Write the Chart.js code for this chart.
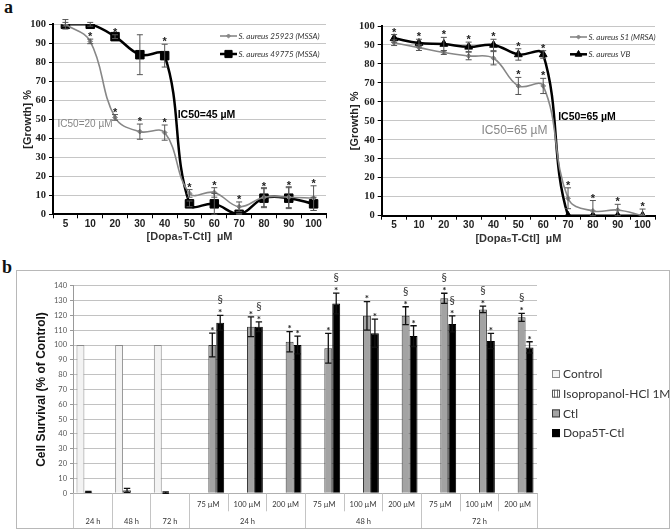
<!DOCTYPE html>
<html>
<head>
<meta charset="utf-8">
<script src="https://cdn.jsdelivr.net/npm/chart.js@4.4.1/dist/chart.umd.min.js"></script>
<style>
  html, body { margin: 0; padding: 0; background: #fff; }
  body { position: relative; width: 671px; height: 531px; overflow: hidden; }
  canvas { position: absolute; }
  .tag { position: absolute; font: bold 18px "Liberation Serif", serif; color: #111; }
  #frameB { position: absolute; left: 16px; top: 270px; width: 654px; height: 259px; border: 1px solid #b8b8b8; box-sizing: border-box; }
</style>
</head>
<body>
<div class="tag" style="left:4px;top:-3px">a</div>
<canvas id="growthMSSA" width="335" height="250" style="left:0;top:0"></canvas>
<canvas id="growthMRSA" width="335" height="250" style="left:330px;top:0"></canvas>
<div id="frameB"></div>
<canvas id="survival" width="653" height="258" style="left:16px;top:270px"></canvas>
<div class="tag" style="left:2px;top:257px">b</div>

<script>
// ===== panel a : growth (%) vs concentration =====
const concLabels = ['5', '10', '20', '30', '40', '50', '60', '70', '80', '90', '100'];

const aureus25923 = [100, 91, 51, 43.5, 43, 11, 11.5, 4, 9, 9, 8.5];
const aureus25923Err = [1, 1.2, 1.5, 4, 4, 2, 2.5, 2.5, 5, 5.5, 6.5];
const aureus49775 = [100, 100, 93.5, 84, 83.5, 5.5, 5.5, 0, 8.5, 8.5, 5.5];
const aureus49775Err = [2.5, 1, 1, 10.5, 6, 1.5, 5.5, 0.5, 5, 5.5, 3.5];
// [category index, series index] -> asterisk above that point
const starsMSSA = [[1, 0], [2, 1], [2, 0], [3, 0], [4, 1], [4, 0], [5, 0], [6, 0], [7, 0], [8, 1], [9, 1], [10, 0]];

const aureusS1 = [91.2, 88.6, 86, 84.2, 83, 68.4, 68.4, 9.2, 2.5, 3, 0];
const aureusS1Err = [1.5, 1.5, 1, 2, 3.5, 4.5, 4, 5.5, 5.5, 3, 3.5];
const aureusVB = [93.5, 91, 90.5, 89, 90, 85, 85, 0, 0, 0, 0];
const aureusVBErr = [2, 2, 3.5, 2.5, 3, 3, 2, 0, 0, 0, 0];
const starsMRSA = [[0, 1], [1, 1], [2, 1], [3, 1], [4, 1], [5, 1], [5, 0], [6, 1], [6, 0], [7, 0], [8, 0], [9, 0], [10, 0]];

// ===== panel b : cell survival =====
const doseRow = ['', '', '', '75 µM', '100 µM', '200 µM', '75 µM', '100 µM', '200 µM', '75 µM', '100 µM', '200 µM'];
const timeGroups = [['24 h', 1], ['48 h', 1], ['72 h', 1], ['24 h', 3], ['48 h', 3], ['72 h', 3]];
const controlPct = [100, 100, 100, null, null, null, null, null, null, null, null, null];
const isopropanolPct = [1, 2, 0.5, null, null, null, null, null, null, null, null, null];
const isopropanolErr = [0.3, 1.3, 0.5, 0, 0, 0, 0, 0, 0, 0, 0, 0];
const ctlPct = [null, null, null, 100, 112.3, 102.2, 97.8, 119.7, 119.8, 131.5, 124, 118.7];
const ctlErr = [0, 0, 0, 8, 6.7, 6.8, 10, 9.6, 6, 3.4, 2.2, 2.7];
const dopaPct = [null, null, null, 115, 112.3, 100, 128, 108, 106, 114.2, 102.7, 98.4];
const dopaErr = [0, 0, 0, 5, 3.3, 6, 7, 9.5, 7, 5.4, 5.2, 3.8];
const ctlMarks = ['', '', '', '*', '*', '*', '*', '*', '*§', '*§', '*§', '*§'];
const dopaMarks = ['', '', '', '*§', '*§', '*', '*§', '*', '*', '*§', '*', '*'];

const GRAY = '#878787';

function drawErrorBars(chart, errLists, color, cap, width) {
  const ctx = chart.ctx, ys = chart.scales.y;
  ctx.save();
  ctx.strokeStyle = color;
  ctx.lineWidth = width;
  errLists.forEach((errs, di) => {
    const vals = chart.data.datasets[di].data;
    chart.getDatasetMeta(di).data.forEach((el, i) => {
      const v = vals[i], e = errs[i];
      if (v == null || !e) return;
      const yt = ys.getPixelForValue(v + e);
      const yb = ys.getPixelForValue(Math.max(0, v - e));
      ctx.beginPath();
      ctx.moveTo(el.x, yt); ctx.lineTo(el.x, yb);
      ctx.moveTo(el.x - cap, yt); ctx.lineTo(el.x + cap, yt);
      ctx.moveTo(el.x - cap, yb); ctx.lineTo(el.x + cap, yb);
      ctx.stroke();
    });
  });
  ctx.restore();
}

function growthExtras(cfg) {
  return {
    id: 'growthExtras',
    afterDatasetsDraw(chart) {
      const errs = [cfg.grayErr, cfg.blackErr];
      drawErrorBars(chart, errs, '#555', 3, 1);
      const ctx = chart.ctx, ys = chart.scales.y;
      ctx.save();
      ctx.fillStyle = '#222';
      ctx.font = 'bold 11px "Liberation Sans"';
      ctx.textAlign = 'center';
      ctx.textBaseline = 'alphabetic';
      cfg.stars.forEach(([i, di]) => {
        const el = chart.getDatasetMeta(di).data[i];
        const v = chart.data.datasets[di].data[i];
        ctx.fillText('*', el.x, ys.getPixelForValue(v + errs[di][i]) + 1);
      });
      ctx.restore();
    },
    afterDraw(chart) {
      const ctx = chart.ctx, area = chart.chartArea;
      ctx.save();
      // legend
      cfg.legend.forEach((it, di) => {
        const ds = chart.data.datasets[di];
        ctx.strokeStyle = ds.borderColor;
        ctx.lineWidth = ds.borderWidth;
        ctx.beginPath();
        ctx.moveTo(it.x0, it.y); ctx.lineTo(it.x1, it.y);
        ctx.stroke();
        ctx.fillStyle = ds.backgroundColor;
        ctx.lineWidth = 1;
        Chart.helpers.drawPoint(ctx, { pointStyle: ds.pointStyle, radius: ds.pointRadius * 0.85, rotation: 0, borderWidth: 1 }, (it.x0 + it.x1) / 2, it.y);
        ctx.fillStyle = '#333';
        ctx.font = 'italic 8px Lato';
        ctx.textAlign = 'left';
        ctx.textBaseline = 'middle';
        ctx.fillText(ds.label, it.x1 + 1.5, it.y);
      });
      // IC50 notes
      ctx.textAlign = 'center';
      ctx.textBaseline = 'middle';
      cfg.notes.forEach(n => {
        ctx.fillStyle = n.color;
        ctx.font = n.font;
        ctx.fillText(n.text, n.x, n.y);
      });
      // x axis title
      ctx.fillStyle = '#333';
      ctx.font = 'bold 11px "Liberation Sans"';
      ctx.fillText('[Dopa₅T-Ctl]  µM', (area.left + area.right) / 2, area.bottom + 23);
      ctx.restore();
    }
  };
}

function growthChart(id, cfg) {
  return new Chart(document.getElementById(id), {
    type: 'line',
    data: {
      labels: concLabels,
      datasets: [
        { label: cfg.grayLabel, data: cfg.grayData, borderColor: GRAY, backgroundColor: GRAY, borderWidth: 1.6,
          pointStyle: 'rectRot', pointRadius: 2.4, pointBorderWidth: 1, tension: 0.4 },
        { label: cfg.blackLabel, data: cfg.blackData, borderColor: '#000', backgroundColor: '#000', borderWidth: 2.5,
          pointStyle: cfg.blackPoint, pointRadius: cfg.blackRadius, pointBorderWidth: 1, tension: 0.4 }
      ]
    },
    options: {
      responsive: false,
      animation: false,
      layout: { padding: { left: 0, right: cfg.padRight, top: cfg.top, bottom: 0 } },
      plugins: { legend: { display: false }, tooltip: { enabled: false } },
      scales: {
        x: {
          offset: true,
          grid: { drawOnChartArea: false, drawTicks: true, tickLength: 4, offset: true, color: '#000', tickColor: '#000' },
          border: { color: '#000', width: 2 },
          ticks: { color: '#222', font: { family: 'Liberation Sans', weight: 'bold', size: 10 }, padding: 0, maxRotation: 0 },
          afterFit(s) { s.height = cfg.xHeight; s.paddingLeft = 0; s.paddingRight = 0; }
        },
        y: {
          min: 0, max: 100,
          ticks: { stepSize: 10, color: '#222', font: { family: 'Liberation Serif', weight: 'bold', size: 10.5 }, padding: 3 },
          grid: { color: c => c.tick && c.tick.value === 0 ? 'rgba(0,0,0,0)' : '#c6c6c6', tickColor: '#000', tickLength: 4 },
          border: { color: '#000', width: 2 },
          title: { display: true, text: '[Growth] %', color: '#222',
                   font: { family: 'Liberation Sans', weight: 'bold', size: 11 }, padding: { top: cfg.yTitlePad, bottom: 0 } },
          afterFit(s) { s.width = cfg.yWidth; s.paddingTop = 0; s.paddingBottom = 0; }
        }
      }
    },
    plugins: [growthExtras(cfg)]
  });
}

growthChart('growthMSSA', {
  grayLabel: 'S. aureus 25923 (MSSA)', grayData: aureus25923, grayErr: aureus25923Err,
  blackLabel: 'S. aureus 49775 (MSSA)', blackData: aureus49775, blackErr: aureus49775Err,
  blackPoint: 'rect', blackRadius: 6, stars: starsMSSA,
  padRight: 9, top: 24.3, xHeight: 35.7, yWidth: 53, yTitlePad: 21.4,
  legend: [{ x0: 220, x1: 237, y: 36 }, { x0: 220, x1: 237, y: 54 }],
  notes: [
    { text: 'IC50=20 µM', x: 85, y: 124, color: GRAY, font: '10px "Liberation Sans"' },
    { text: 'IC50=45 µM', x: 206.5, y: 115, color: '#000', font: 'bold 10.5px "Liberation Sans"' }
  ]
});

growthChart('growthMRSA', {
  grayLabel: 'S. aureus S1 (MRSA)', grayData: aureusS1, grayErr: aureusS1Err,
  blackLabel: 'S. aureus VB', blackData: aureusVB, blackErr: aureusVBErr,
  blackPoint: 'triangle', blackRadius: 4.5, stars: starsMRSA,
  padRight: 10, top: 26, xHeight: 34.3, yWidth: 51.7, yTitlePad: 18.7,
  legend: [{ x0: 240, x1: 257, y: 37 }, { x0: 240, x1: 257, y: 54.3 }],
  notes: [
    { text: 'IC50=65 µM', x: 184.5, y: 131, color: GRAY, font: '12px "Liberation Sans"' },
    { text: 'IC50=65 µM', x: 257, y: 117, color: '#000', font: 'bold 10.5px "Liberation Sans"' }
  ]
});

// ===== panel b =====
function stripes() {
  const c = document.createElement('canvas');
  c.width = 3; c.height = 3;
  const g = c.getContext('2d');
  g.fillStyle = '#fff'; g.fillRect(0, 0, 3, 3);
  g.fillStyle = '#777'; g.fillRect(1, 0, 1, 3);
  return g.createPattern(c, 'repeat');
}

const survivalExtras = {
  id: 'survivalExtras',
  afterDatasetsDraw(chart) {
    drawErrorBars(chart, [[], isopropanolErr, ctlErr, dopaErr], '#111', 3.2, 1.3);
    const ctx = chart.ctx, ys = chart.scales.y;
    ctx.save();
    ctx.textAlign = 'center';
    ctx.textBaseline = 'alphabetic';
    [[2, ctlPct, ctlErr, ctlMarks], [3, dopaPct, dopaErr, dopaMarks]].forEach(([di, vals, errs, marks]) => {
      chart.getDatasetMeta(di).data.forEach((el, i) => {
        if (!marks[i]) return;
        const top = ys.getPixelForValue(vals[i] + errs[i]);
        ctx.fillStyle = '#222';
        ctx.font = 'bold 10px Lato';
        ctx.fillText('*', el.x, top + 0.8);
        if (marks[i].includes('§')) {
          ctx.fillStyle = '#333';
          ctx.font = '11px Lato';
          ctx.fillText('§', el.x, top - 12);
        }
      });
    });
    ctx.restore();
  },
  afterDraw(chart) {
    const ctx = chart.ctx, xs = chart.scales.x, area = chart.chartArea;
    const w = xs.getPixelForValue(1) - xs.getPixelForValue(0);
    const edge = i => Math.round(xs.getPixelForValue(0) - w / 2 + i * w) + 0.5;
    ctx.save();
    // category table under the axis
    const fullEdges = [0];
    timeGroups.forEach(g => fullEdges.push(fullEdges[fullEdges.length - 1] + g[1]));
    ctx.strokeStyle = '#c4c4c4';
    ctx.lineWidth = 1;
    for (let i = 0; i <= doseRow.length; i++) {
      const full = fullEdges.includes(i);
      ctx.beginPath();
      ctx.moveTo(edge(i), area.bottom);
      ctx.lineTo(edge(i), full ? chart.height : area.bottom + 18);
      ctx.stroke();
    }
    ctx.fillStyle = '#333';
    ctx.font = '7.5px Lato';
    ctx.textAlign = 'center';
    ctx.textBaseline = 'middle';
    doseRow.forEach((d, i) => { if (d) ctx.fillText(d, xs.getPixelForValue(i), area.bottom + 11.7); });
    timeGroups.forEach((g, k) => {
      const a = fullEdges[k], b = fullEdges[k + 1];
      ctx.fillText(g[0], (edge(a) + edge(b)) / 2, area.bottom + 28.4);
    });
    // legend
    const lx = area.right + 15;
    ctx.textAlign = 'left';
    ctx.font = '12px Lato';
    chart.data.datasets.forEach((ds, di) => {
      const ly = 104 + di * 19.7;
      ctx.fillStyle = ds.backgroundColor;
      ctx.fillRect(lx, ly - 4, 8, 8);
      ctx.strokeStyle = ds.borderColor;
      ctx.strokeRect(lx + 0.5, ly - 3.5, 7, 7);
      ctx.fillStyle = '#333';
      ctx.fillText(ds.label, lx + 11, ly + 0.5);
    });
    ctx.restore();
  }
};

new Chart(document.getElementById('survival'), {
  type: 'bar',
  data: {
    labels: doseRow.map((d, i) => d || timeGroups[i][0]),
    datasets: [
      { label: 'Control', data: controlPct, backgroundColor: '#f3f3f3', borderColor: '#8a8a8a', borderWidth: 1 },
      { label: 'Isopropanol-HCl 1M', data: isopropanolPct, backgroundColor: stripes(), borderColor: '#555', borderWidth: 1 },
      { label: 'Ctl', data: ctlPct, backgroundColor: '#a3a3a3', borderColor: '#3a3a3a', borderWidth: 1 },
      { label: 'Dopa5T-Ctl', data: dopaPct, backgroundColor: '#000', borderColor: '#000', borderWidth: 1 }
    ]
  },
  options: {
    responsive: false,
    animation: false,
    datasets: { bar: { barPercentage: 1, categoryPercentage: 0.82 } },
    layout: { padding: { left: 0, right: 132, top: 15.7, bottom: 0 } },
    plugins: { legend: { display: false }, tooltip: { enabled: false } },
    scales: {
      x: {
        ticks: { display: false },
        grid: { display: false },
        border: { color: '#b0b0b0' },
        afterFit(s) { s.height = 34.7; s.paddingLeft = 0; s.paddingRight = 0; }
      },
      y: {
        min: 0, max: 140,
        ticks: { stepSize: 10, color: '#555', font: { family: 'Lato', size: 7.5 }, padding: 3 },
        grid: { color: '#c2c2c2', tickColor: '#999', tickLength: 3 },
        border: { color: '#999' },
        title: { display: true, text: 'Cell Survival (% of Control)', color: '#111',
                 font: { family: 'Liberation Sans', weight: 'bold', size: 12 }, padding: { top: 18.5, bottom: 0 } },
        afterFit(s) { s.width = 57; s.paddingTop = 0; s.paddingBottom = 0; }
      }
    }
  },
  plugins: [survivalExtras]
});
</script>
</body>
</html>
